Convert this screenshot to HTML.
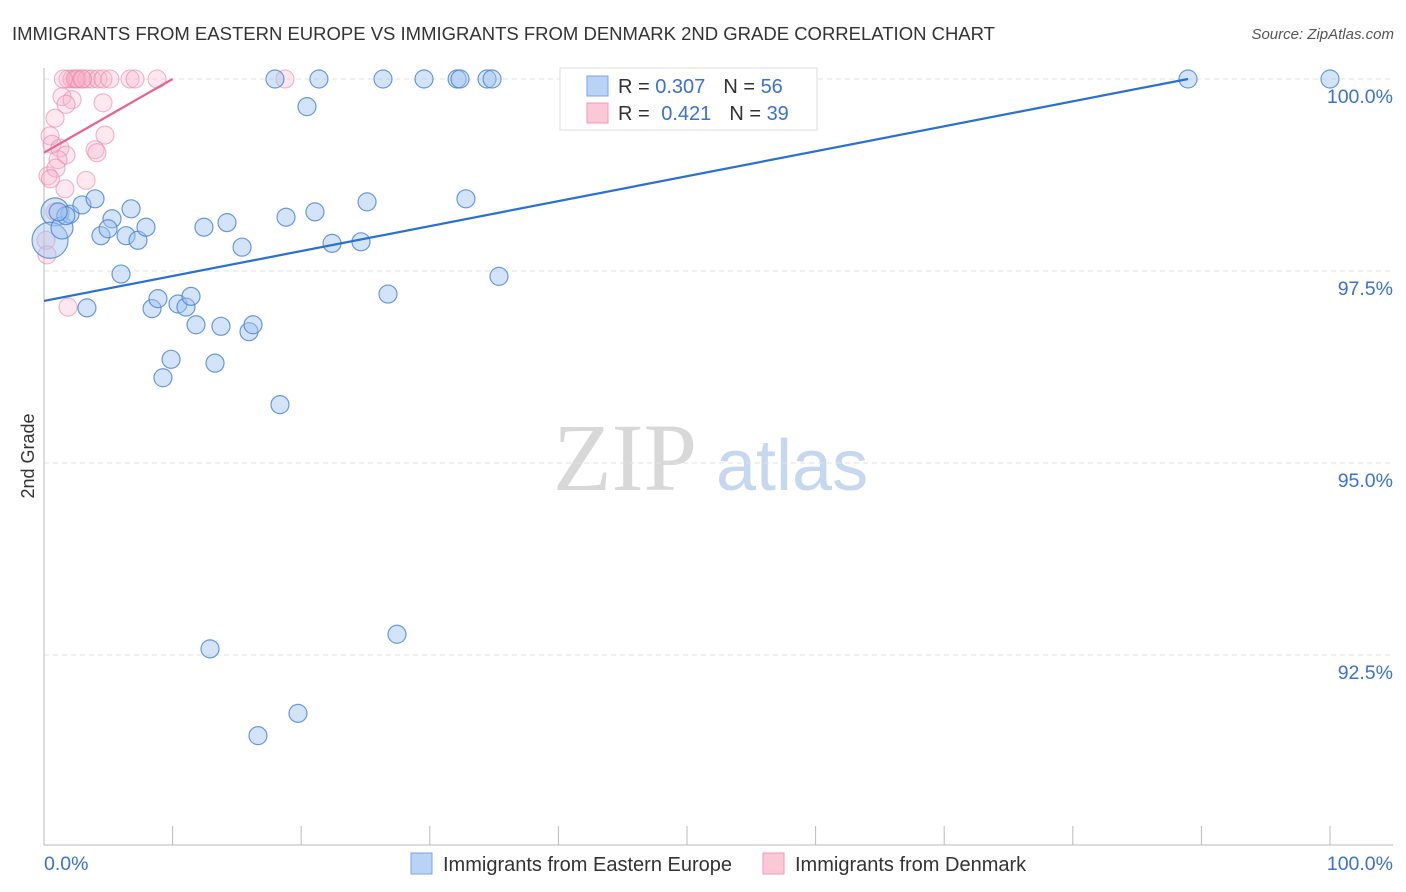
<!DOCTYPE html>
<html><head><meta charset="utf-8"><style>
body{margin:0;background:#fff;font-family:"Liberation Sans",sans-serif}
svg{display:block}
</style></head><body>
<svg id="chart" width="1406" height="892" viewBox="0 0 1406 892">
<text x="12" y="40" font-size="18.5" fill="#333">IMMIGRANTS FROM EASTERN EUROPE VS IMMIGRANTS FROM DENMARK 2ND GRADE CORRELATION CHART</text>
<text x="1394" y="39" font-size="15" fill="#555" font-style="italic" text-anchor="end">Source: ZipAtlas.com</text>
<g>
<text x="553" y="490" font-family="Liberation Serif,serif" font-size="96" fill="#d8d8d8">ZIP</text>
<text x="716" y="490" font-size="72" fill="#c6d8ef">atlas</text>
</g>
<g id="grid"></g>
<g id="axes"></g>
<g id="pts-pink"></g>
<g id="pts-blue"></g>
<g id="trends"></g>
<text transform="translate(34,456) rotate(-90)" font-size="18" fill="#333" text-anchor="middle">2nd Grade</text>
<text x="44" y="870" font-size="19.5" fill="#3a72d0">0.0%</text>
<text x="1393" y="870" font-size="19.5" fill="#3a72d0" text-anchor="end">100.0%</text>
<g>
<rect x="560" y="68" width="257" height="62" fill="#fff" stroke="#ddd"/>
<rect x="587" y="76" width="21" height="20" fill="#b8d3f5" stroke="#7aa6e6"/>
<rect x="587" y="103" width="21" height="20" fill="#fbc8d8" stroke="#f09ab5"/>
<text x="618" y="93" font-size="20" fill="#333">R = <tspan fill="#3a72d0">0.307</tspan><tspan dx="18">N = </tspan><tspan fill="#3a72d0">56</tspan></text>
<text x="618" y="120" font-size="20" fill="#333">R = <tspan fill="#3a72d0" dx="6">0.421</tspan><tspan dx="18">N = </tspan><tspan fill="#3a72d0">39</tspan></text>
</g>
<g>
<rect x="411" y="853" width="21" height="21" fill="#b8d3f5" stroke="#7aa6e6"/>
<text x="443" y="871" font-size="20" fill="#333">Immigrants from Eastern Europe</text>
<rect x="763" y="853" width="21" height="21" fill="#fbc8d8" stroke="#f09ab5"/>
<text x="795" y="871" font-size="20" fill="#333">Immigrants from Denmark</text>
</g>
</svg>
<script>
const blueX=[17.96,21.38,26.36,29.55,32.12,32.35,34.45,34.84,88.96,100,20.45,0.86,0.47,1.40,2.02,2.95,3.97,4.43,5.29,4.98,6.38,6.77,7.31,7.93,5.99,3.34,8.40,8.86,10.42,11.04,11.43,11.82,13.76,15.94,16.25,9.88,9.25,13.30,12.44,14.23,15.40,18.82,21.07,22.40,24.65,25.12,32.81,26.75,35.38,18.35,12.91,27.45,19.75,16.64,1.7,1.1];
const blueY=[100,100,100,100,100,100,100,100,100,100,99.64,98.27,97.90,98.06,98.24,98.36,98.44,97.96,98.18,98.05,97.96,98.31,97.90,98.07,97.46,97.02,97.01,97.14,97.07,97.03,97.17,96.80,96.78,96.71,96.80,96.35,96.11,96.30,98.07,98.13,97.81,98.20,98.27,97.86,97.88,98.40,98.44,97.20,97.43,95.76,92.58,92.77,91.74,91.45,98.22,98.27];
const blueR=[9,9,9,9,9,9,9,9,9,9,9,14,18,11,9,9,9,9,9,9,9,9,9,9,9,9,9,9,9,9,9,9,9,9,9,9,9,9,9,9,9,9,9,9,9,9,9,9,9,9,9,9,9,9,9,9];
const pinkX=[1.87,2.18,2.41,2.64,2.95,3.34,3.73,4.20,4.59,5.13,6.69,7.08,8.79,18.74,1.40,2.18,4.59,1.71,0.86,0.47,0.62,1.24,1.71,1.09,3.97,4.12,4.74,3.27,1.63,0.31,0.93,0.86,0.16,0.23,1.87,2.5,3.0,1.5,0.5];
const pinkY=[100,100,100,100,100,100,100,100,100,100,100,100,100,100,99.77,99.73,99.69,99.67,99.49,99.26,99.15,99.10,99.01,98.95,99.08,99.04,99.27,98.68,98.57,98.74,98.84,98.27,97.90,97.71,97.03,100,100,100,98.7];
const blueTrendX=[0,88.96], blueTrendY=[97.11,100];
const pinkTrendX=[0,10], pinkTrendY=[99.04,100];
const yTicks=[100,97.5,95,92.5], yTickLabels=["100.0%","97.5%","95.0%","92.5%"];
const xTicks=[0,10,20,30,40,50,60,70,80,90,100];
const NS="http://www.w3.org/2000/svg";
const sx=v=>44+v*12.86, sy=v=>79+(100-v)*76.8;
function mk(t,a,p){const e=document.createElementNS(NS,t);for(const k in a)e.setAttribute(k,a[k]);p.appendChild(e);return e;}
const grid=document.getElementById('grid'),axes=document.getElementById('axes');
yTicks.forEach((v,i)=>{
 const l=mk('line',{x1:44,x2:1393,y1:sy(v),y2:sy(v),stroke:'#e2e2e2','stroke-dasharray':'5,4'},grid);
 
 
 const t=mk('text',{x:1393,y:sy(v)+24,'font-size':19.5,fill:'#3a72d0','text-anchor':'end'},axes);
 t.textContent=yTickLabels[i];
 
 
});
mk('line',{x1:44,x2:44,y1:68,y2:845,stroke:'#bbb'},axes);
mk('line',{x1:44,x2:1393,y1:845,y2:845,stroke:'#bbb'},axes);
xTicks.forEach(v=>{const l=mk('line',{x1:sx(v),x2:sx(v),y1:826,y2:845,stroke:'#bbb'},axes);
 
 });
const pp=document.getElementById('pts-pink');
pinkX.forEach((x,i)=>{const c=mk('circle',{cx:sx(x),cy:sy(pinkY[i]),r:9,fill:'rgba(248,180,202,0.3)',stroke:'rgba(236,130,165,0.6)','stroke-width':1.1},pp);
 
 });
const bp=document.getElementById('pts-blue');
blueX.forEach((x,i)=>{const c=mk('circle',{cx:sx(x),cy:sy(blueY[i]),r:blueR[i],fill:'rgba(160,195,240,0.45)',stroke:'rgba(70,130,215,0.8)','stroke-width':1.2},bp);
 
 });
const tr=document.getElementById('trends');
const b=mk('line',{x1:sx(blueTrendX[0]),y1:sy(blueTrendY[0]),x2:sx(blueTrendX[1]),y2:sy(blueTrendY[1]),stroke:'#2670d6','stroke-width':2.2},tr);


const p=mk('line',{x1:sx(pinkTrendX[0]),y1:sy(pinkTrendY[0]),x2:sx(pinkTrendX[1]),y2:sy(pinkTrendY[1]),stroke:'#e8628e','stroke-width':2.2},tr);


</script>
</body></html>
